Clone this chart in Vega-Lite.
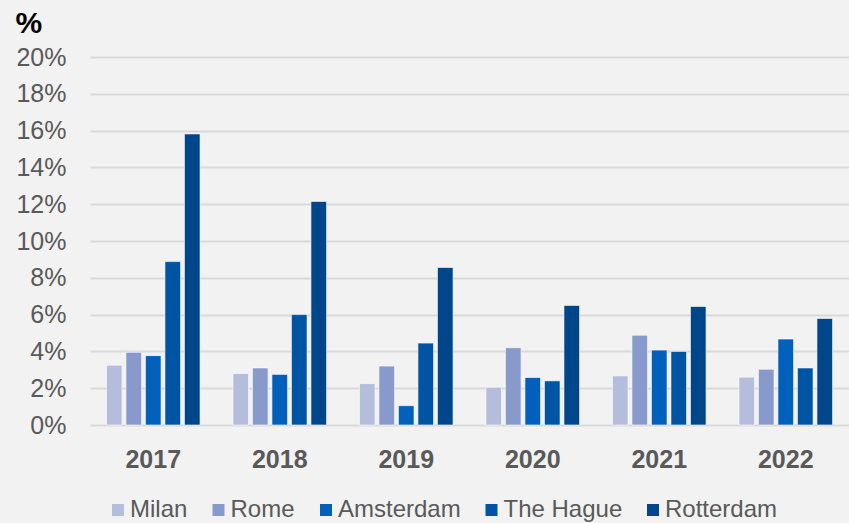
{
  "$schema": "https://vega.github.io/schema/vega-lite/v6.json",
  "width": 759,
  "height": 368,
  "autosize": {"type": "none"},
  "padding": {"left": 90, "top": 57, "right": 0, "bottom": 98},
  "background": "#F2F2F2",
  "config": {
    "view": {"stroke": null},
    "font": "Liberation Sans"
  },
  "data": {
    "values": [
      {"year": "2017", "city": "Milan", "value": 3.25},
      {"year": "2017", "city": "Rome", "value": 3.95},
      {"year": "2017", "city": "Amsterdam", "value": 3.77},
      {"year": "2017", "city": "The Hague", "value": 8.88},
      {"year": "2017", "city": "Rotterdam", "value": 15.82},
      {"year": "2018", "city": "Milan", "value": 2.8},
      {"year": "2018", "city": "Rome", "value": 3.1},
      {"year": "2018", "city": "Amsterdam", "value": 2.75},
      {"year": "2018", "city": "The Hague", "value": 6.0},
      {"year": "2018", "city": "Rotterdam", "value": 12.15},
      {"year": "2019", "city": "Milan", "value": 2.25},
      {"year": "2019", "city": "Rome", "value": 3.2},
      {"year": "2019", "city": "Amsterdam", "value": 1.05},
      {"year": "2019", "city": "The Hague", "value": 4.45},
      {"year": "2019", "city": "Rotterdam", "value": 8.56},
      {"year": "2020", "city": "Milan", "value": 2.05},
      {"year": "2020", "city": "Rome", "value": 4.2},
      {"year": "2020", "city": "Amsterdam", "value": 2.58},
      {"year": "2020", "city": "The Hague", "value": 2.4},
      {"year": "2020", "city": "Rotterdam", "value": 6.5},
      {"year": "2021", "city": "Milan", "value": 2.67},
      {"year": "2021", "city": "Rome", "value": 4.88},
      {"year": "2021", "city": "Amsterdam", "value": 4.07},
      {"year": "2021", "city": "The Hague", "value": 4.0},
      {"year": "2021", "city": "Rotterdam", "value": 6.44},
      {"year": "2022", "city": "Milan", "value": 2.6},
      {"year": "2022", "city": "Rome", "value": 3.03},
      {"year": "2022", "city": "Amsterdam", "value": 4.67},
      {"year": "2022", "city": "The Hague", "value": 3.1},
      {"year": "2022", "city": "Rotterdam", "value": 5.79}
    ]
  },
  "mark": {"type": "bar", "stroke": "#FFFFFF", "strokeOpacity": 0.6, "strokeWidth": 1},
  "encoding": {
    "x": {
      "field": "year",
      "type": "nominal",
      "scale": {"paddingInner": 0.26, "paddingOuter": 0.13},
      "axis": {
        "title": null,
        "labelAngle": 0,
        "labelFontSize": 25,
        "labelFontWeight": "bold",
        "labelColor": "#595959",
        "labelPadding": 22,
        "ticks": false,
        "domain": false
      }
    },
    "xOffset": {
      "field": "city",
      "type": "nominal",
      "sort": ["Milan", "Rome", "Amsterdam", "The Hague", "Rotterdam"],
      "scale": {"paddingInner": 0.2, "paddingOuter": 0}
    },
    "y": {
      "field": "value",
      "type": "quantitative",
      "scale": {"domain": [0, 20], "nice": false},
      "axis": {
        "title": "%",
        "titleAngle": 0,
        "titleAlign": "left",
        "titleBaseline": "alphabetic",
        "titleX": -75,
        "titleY": -25,
        "titleFontSize": 30,
        "titleFontWeight": "bold",
        "titleColor": "#000000",
        "values": [0, 2, 4, 6, 8, 10, 12, 14, 16, 18, 20],
        "labelExpr": "datum.value + '%'",
        "labelFontSize": 25,
        "labelColor": "#595959",
        "labelPadding": 24,
        "ticks": false,
        "domain": false,
        "gridColor": "#D9D9D9",
        "gridWidth": 2
      }
    },
    "color": {
      "field": "city",
      "type": "nominal",
      "sort": ["Milan", "Rome", "Amsterdam", "The Hague", "Rotterdam"],
      "scale": {
        "domain": ["Milan", "Rome", "Amsterdam", "The Hague", "Rotterdam"],
        "range": ["#B4BEDC", "#8899CC", "#0060BB", "#0054A4", "#00468B"]
      },
      "legend": {
        "title": null,
        "orient": "none",
        "direction": "horizontal",
        "legendX": 16,
        "legendY": 441,
        "symbolType": "square",
        "symbolSize": 144,
        "symbolStrokeWidth": 0,
        "labelFontSize": 24,
        "labelColor": "#595959",
        "labelOffset": 0,
        "columnPadding": 18.5
      }
    }
  }
}
